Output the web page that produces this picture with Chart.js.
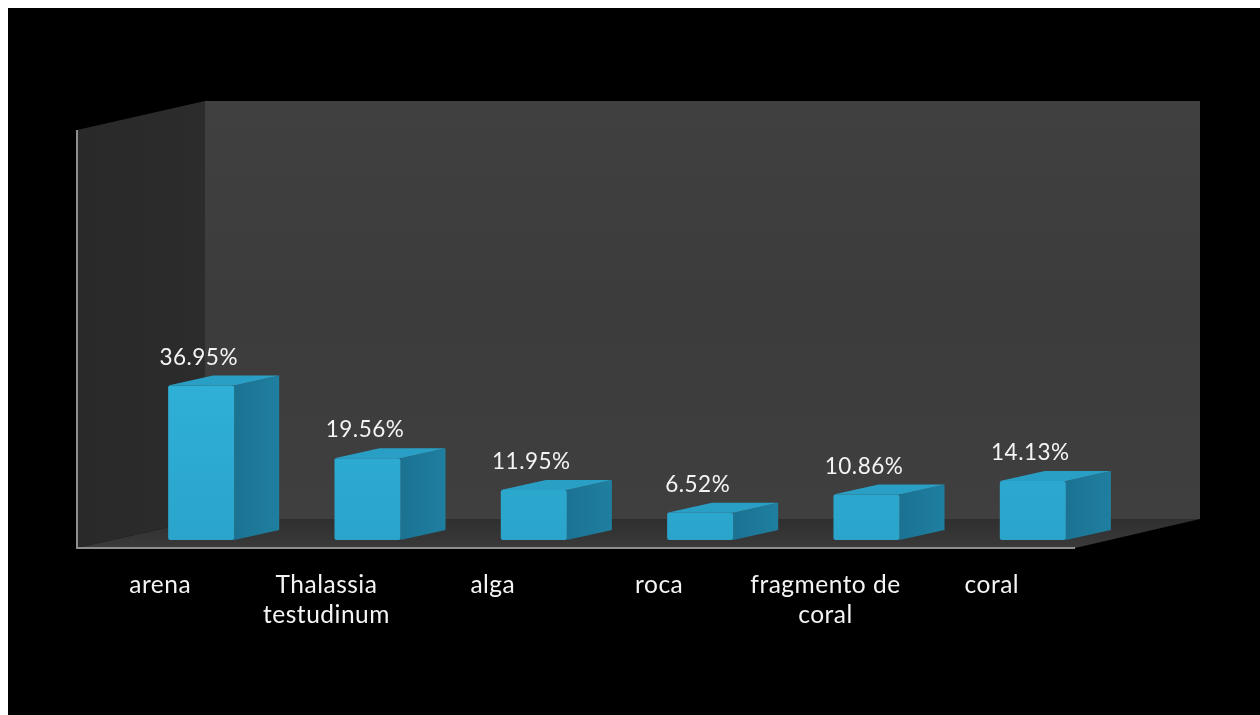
<!DOCTYPE html>
<html>
<head>
<meta charset="utf-8">
<style>
  html, body { margin: 0; padding: 0; background: #fff; overflow: hidden; }
  #wrap { position: absolute; left: 8px; top: 8px; width: 1252px; height: 707px; background: #000; }
</style>
<script src="https://cdn.jsdelivr.net/npm/chart.js@4"></script>
</head>
<body>
<div id="wrap"><canvas id="chart" width="1252" height="707"></canvas></div>
<script>
const categories = ['arena', ['Thalassia', 'testudinum'], 'alga', 'roca', ['fragmento de', 'coral'], 'coral'];
const percentValues = [36.95, 19.56, 11.95, 6.52, 10.86, 14.13];
const axisMax = 100;

const FONT = 'Lato, "Open Sans", sans-serif';
const BAR_DX = 45; // depth of the bars
const BAR_DY = 10;
const AXIS_SHIFT = 41; // labels and front walls sit left of the bars
const FLOOR_DROP = 8; // front edge of the floor is below the bar base

function fillPoly(ctx, points, fill) {
  ctx.beginPath();
  points.forEach((p, i) => (i === 0 ? ctx.moveTo(p[0], p[1]) : ctx.lineTo(p[0], p[1])));
  ctx.closePath();
  ctx.fillStyle = fill;
  ctx.fill();
}

const box3d = {
  id: 'box3d',
  beforeDraw(chart) {
    // the reference font runs wider than Lato
    chart.ctx.letterSpacing = '0.5px';
  },
  // walls, floor and the two hidden faces of each bar go under the front faces
  beforeDatasetsDraw(chart) {
    const { ctx, chartArea, scales } = chart;
    const fl = chartArea.left - AXIS_SHIFT;
    const fr = chartArea.right - AXIS_SHIFT;
    const fb = scales.y.getPixelForValue(0) + FLOOR_DROP;
    const ft = scales.y.getPixelForValue(axisMax) + FLOOR_DROP;
    const bl = fl + 128;
    const br = fr + 125;
    const bt = ft - 29;
    const bb = fb - 29;

    ctx.save();
    const backFill = ctx.createLinearGradient(0, bt, 0, bb);
    backFill.addColorStop(0, '#404040');
    backFill.addColorStop(0.5, '#3c3c3c');
    backFill.addColorStop(1, '#3f3f3f');
    fillPoly(ctx, [[bl, bt], [br, bt], [br, bb], [bl, bb]], backFill);

    const leftFill = ctx.createLinearGradient(fl, 0, bl, 0);
    leftFill.addColorStop(0, '#292929');
    leftFill.addColorStop(1, '#2c2c2c');
    fillPoly(ctx, [[fl, ft], [bl, bt], [bl, bb], [fl, fb]], leftFill);

    const floorFill = ctx.createLinearGradient(0, bb, 0, fb);
    floorFill.addColorStop(0, '#2f2f2f');
    floorFill.addColorStop(1, '#3a3a3a');
    fillPoly(ctx, [[fl, fb], [bl, bb], [br, bb], [fr, fb]], floorFill);

    ctx.strokeStyle = '#8e8e8e';
    ctx.lineWidth = 2;
    ctx.beginPath();
    ctx.moveTo(fl, ft);
    ctx.lineTo(fl, fb);
    ctx.lineTo(fr, fb);
    ctx.stroke();

    chart.getDatasetMeta(0).data.forEach(bar => {
      const right = bar.x + bar.width / 2;
      const left = bar.x - bar.width / 2;
      const sideFill = ctx.createLinearGradient(right, 0, right + BAR_DX, 0);
      sideFill.addColorStop(0, '#1b7292');
      sideFill.addColorStop(1, '#1f7fa0');
      fillPoly(ctx, [[right, bar.y], [right + BAR_DX, bar.y - BAR_DY], [right + BAR_DX, bar.base - BAR_DY], [right, bar.base]], sideFill);
      fillPoly(ctx, [[left, bar.y], [left + BAR_DX, bar.y - BAR_DY], [right + BAR_DX, bar.y - BAR_DY], [right, bar.y]], '#2a9fc6');
    });
    ctx.restore();
  },
  afterDatasetsDraw(chart) {
    const { ctx } = chart;
    ctx.save();
    ctx.fillStyle = '#f4f4f4';
    ctx.font = '22.5px ' + FONT;
    ctx.textAlign = 'center';
    ctx.textBaseline = 'middle';
    chart.getDatasetMeta(0).data.forEach((bar, i) => {
      ctx.fillText(percentValues[i].toFixed(2) + '%', bar.x - 2.5, bar.y - 28);
    });
    ctx.restore();
  },
};

new Chart('chart', {
  type: 'bar',
  data: {
    labels: categories,
    datasets: [
      {
        data: percentValues,
        categoryPercentage: 1,
        barPercentage: 0.397,
        borderRadius: 2,
        borderSkipped: false,
        backgroundColor: context => {
          const { chart } = context;
          if (!chart.chartArea) return '#2dabd4';
          const g = chart.ctx.createLinearGradient(0, chart.chartArea.bottom - 160, 0, chart.chartArea.bottom);
          g.addColorStop(0, '#2fb0d7');
          g.addColorStop(1, '#2aa4cb');
          return g;
        },
      },
    ],
  },
  options: {
    responsive: false,
    animation: false,
    layout: { padding: { left: 110, right: 144, top: 114, bottom: 0 } },
    plugins: { legend: { display: false }, tooltip: { enabled: false } },
    scales: {
      x: {
        grid: { display: false },
        border: { display: false },
        afterFit: scale => { scale.height = 175; },
        ticks: {
          color: '#f4f4f4',
          font: { family: FONT, size: 24.5, lineHeight: 1.22 },
          padding: 22,
          labelOffset: -AXIS_SHIFT,
          maxRotation: 0,
          autoSkip: false,
        },
      },
      y: { display: false, min: 0, max: axisMax },
    },
  },
  plugins: [box3d],
});
</script>
</body>
</html>
